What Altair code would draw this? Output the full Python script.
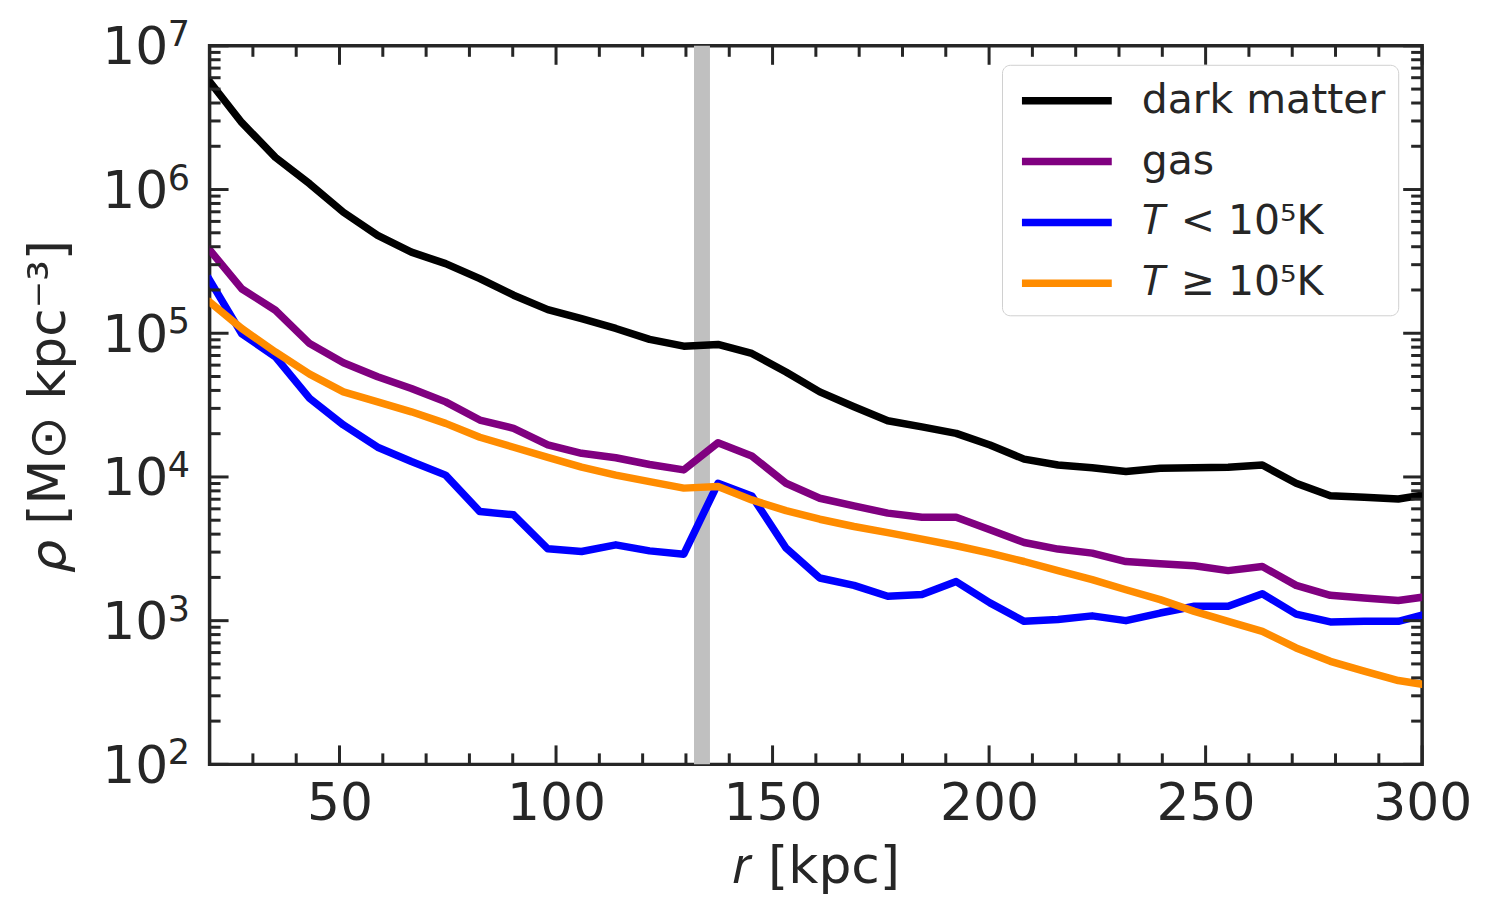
import altair as alt
import pandas as pd

# radial bins (kpc)
r_kpc = [19.5, 27.4, 35.2, 43.1, 50.9, 58.8, 66.6, 74.5, 82.4, 90.2, 98.1, 105.9,
         113.8, 121.6, 129.5, 137.4, 145.2, 153.1, 160.9, 168.8, 176.6, 184.5, 192.4,
         200.2, 208.1, 215.9, 223.8, 231.6, 239.5, 247.4, 255.2, 263.1, 270.9, 278.8,
         286.6, 294.5, 302.4]

rho_dm = [5.90e6, 2.93e6, 1.675e6, 1.096e6, 6.95e5, 4.80e5, 3.67e5, 3.05e5, 2.40e5,
          1.84e5, 1.46e5, 1.265e5, 1.08e5, 9.06e4, 8.13e4, 8.36e4, 7.23e4, 5.38e4,
          3.91e4, 3.08e4, 2.46e4, 2.23e4, 2.01e4, 1.67e4, 1.33e4, 1.21e4, 1.16e4,
          1.09e4, 1.15e4, 1.16e4, 1.17e4, 1.21e4, 9.04e3, 7.41e3, 7.23e3, 7.03e3, 7.67e3]

rho_gas = [3.97e5, 2.04e5, 1.445e5, 8.47e4, 6.24e4, 4.98e4, 4.13e4, 3.33e4, 2.49e4,
           2.18e4, 1.67e4, 1.46e4, 1.36e4, 1.22e4, 1.12e4, 1.73e4, 1.40e4, 9.04e3,
           7.11e3, 6.30e3, 5.60e3, 5.25e3, 5.25e3, 4.29e3, 3.50e3, 3.15e3, 2.95e3,
           2.58e3, 2.49e3, 2.41e3, 2.23e3, 2.38e3, 1.76e3, 1.50e3, 1.44e3, 1.38e3, 1.49e3]

rho_cold = [2.49e5, 9.95e4, 6.84e4, 3.52e4, 2.30e4, 1.61e4, 1.28e4, 1.03e4, 5.74e3,
            5.45e3, 3.16e3, 3.03e3, 3.37e3, 3.06e3, 2.90e3, 9.04e3, 7.38e3, 3.20e3,
            1.98e3, 1.76e3, 1.48e3, 1.52e3, 1.87e3, 1.33e3, 9.89e2, 1.02e3, 1.08e3,
            1.00e3, 1.13e3, 1.26e3, 1.26e3, 1.54e3, 1.11e3, 9.80e2, 9.89e2, 9.89e2, 1.14e3]

rho_hot = [1.70e5, 1.08e5, 7.41e4, 5.19e4, 3.91e4, 3.33e4, 2.84e4, 2.36e4, 1.89e4,
           1.61e4, 1.37e4, 1.17e4, 1.03e4, 9.27e3, 8.36e3, 8.57e3, 6.92e3, 5.83e3,
           5.08e3, 4.52e3, 4.10e3, 3.69e3, 3.32e3, 2.95e3, 2.58e3, 2.23e3, 1.93e3,
           1.64e3, 1.40e3, 1.16e3, 9.89e2, 8.43e2, 6.46e2, 5.21e2, 4.45e2, 3.83e2, 3.52e2]

series_names = ["dark matter", "gas", "𝑇 < 10⁵K", "𝑇 ≥ 10⁵K"]
series_colors = ["#000000", "#800080", "#0000ff", "#ff8c00"]

r_marker = [133.7]

x_major = [50, 100, 150, 200, 250, 300]
x_minor = [30, 40, 60, 70, 80, 90, 110, 120, 130, 140, 160, 170, 180, 190,
           210, 220, 230, 240, 260, 270, 280, 290]
y_major = [1e2, 1e3, 1e4, 1e5, 1e6, 1e7]
y_exponents = ["2", "3", "4", "5", "6", "7"]
y_minor = [m * d for d in [1e2, 1e3, 1e4, 1e5, 1e6] for m in [2, 3, 4, 5, 6, 7, 8, 9]]

W, H = 1215, 720
DARK = "#262626"
FONT = "DejaVu Sans"

rows = []
for name, vals in zip(series_names, [rho_dm, rho_gas, rho_cold, rho_hot]):
    for i, (r, v) in enumerate(zip(r_kpc, vals)):
        rows.append({"r": r, "rho": v, "series": name, "order": i})
df = pd.DataFrame(rows)

xscale = alt.Scale(domain=[20, 300], nice=False, zero=False)
yscale = alt.Scale(type="log", domain=[100, 1e7], nice=False)

x_axis = alt.Axis(values=x_major, ticks=False, tickSize=0, domain=False, grid=False,
                  labelFontSize=52, labelFont=FONT, labelColor=DARK, labelPadding=14,
                  labelFlush=False,
                  title="𝑟 [kpc]", titleFont=FONT, titleFontSize=52,
                  titleFontWeight="normal", titleColor=DARK, titlePadding=12)
y_axis = alt.Axis(values=y_major, ticks=False, tickSize=0, domain=False, grid=False,
                  labelExpr="'10'", labelOffset=2,
                  labelFontSize=52, labelFont=FONT, labelColor=DARK, labelPadding=42,
                  labelFlush=False,
                  title="𝜌 [M⊙ kpc⁻³]", titleFont=FONT, titleFontSize=52,
                  titleFontWeight="normal", titleColor=DARK, titlePadding=26)

band = alt.Chart(pd.DataFrame({"r": r_marker})).mark_rule(
    color="#c0c0c0", strokeWidth=16
).encode(x=alt.X("r:Q", scale=xscale, axis=x_axis))

lines = alt.Chart(df).mark_line(strokeWidth=7.5, clip=True, strokeJoin="round").encode(
    x=alt.X("r:Q", scale=xscale, axis=x_axis),
    y=alt.Y("rho:Q", scale=yscale, axis=y_axis),
    color=alt.Color("series:N", scale=alt.Scale(domain=series_names, range=series_colors),
                    legend=alt.Legend(title=None, orient="none", legendX=794, legendY=19,
                                      symbolType="M-2.25,0H2.25", symbolSize=1600,
                                      symbolStrokeWidth=7.5, symbolOffset=29,
                                      labelFontSize=41, labelFont=FONT, labelColor=DARK,
                                      labelOffset=51, labelLimit=600, rowPadding=17, padding=12,
                                      strokeColor="#d0d0d0", fillColor="white",
                                      cornerRadius=8)),
    order="order:Q",
)

# exponent part of the y tick labels (10^n)
exp_labels = alt.Chart(pd.DataFrame({"rho": y_major, "e": y_exponents})).mark_text(
    align="left", baseline="alphabetic", fontSize=35, font=FONT, color=DARK
).encode(
    x=alt.value(-42),
    y=alt.Y("rho:Q", scale=yscale, axis=y_axis),
    text="e:N",
)

def xticks(vals, length, top):
    d = pd.DataFrame({"r": vals})
    if top:
        yy = dict(y=alt.value(0), y2=alt.value(length))
    else:
        yy = dict(y=alt.value(H), y2=alt.value(H - length))
    return alt.Chart(d).mark_rule(color=DARK, strokeWidth=3).encode(
        x=alt.X("r:Q", scale=xscale, axis=x_axis), **yy)

def yticks(vals, length, right):
    d = pd.DataFrame({"rho": vals})
    if right:
        xx = dict(x=alt.value(W), x2=alt.value(W - length))
    else:
        xx = dict(x=alt.value(0), x2=alt.value(length))
    return alt.Chart(d).mark_rule(color=DARK, strokeWidth=3).encode(
        y=alt.Y("rho:Q", scale=yscale, axis=y_axis), **xx)

ticks = [xticks(x_major, 19, False), xticks(x_major, 19, True),
         xticks(x_minor, 11, False), xticks(x_minor, 11, True),
         yticks(y_major, 19, False), yticks(y_major, 19, True),
         yticks(y_minor, 11, False), yticks(y_minor, 11, True)]

chart = alt.layer(band, lines, *ticks, exp_labels).properties(
    width=W, height=H,
    background="white",
    autosize=alt.AutoSizeParams(type="none"),
    padding={"left": 202, "top": 37, "right": 70, "bottom": 134},
).configure_view(stroke=DARK, strokeWidth=3.5)

chart.save("out.html", embed_options={"renderer": "svg", "actions": False})
